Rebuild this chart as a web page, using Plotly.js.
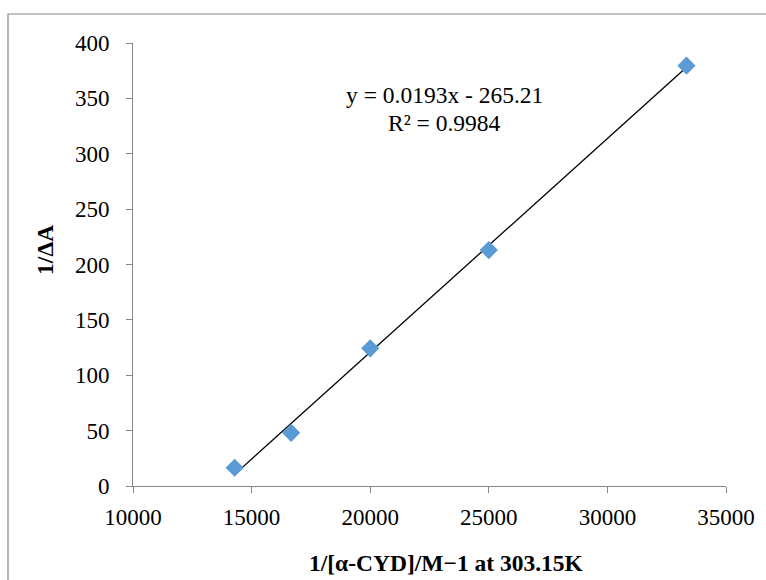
<!DOCTYPE html>
<html>
<head>
<meta charset="utf-8">
<script src="https://cdn.plot.ly/plotly-3.0.1.min.js"></script>
<style>html,body{margin:0;padding:0;background:#fff;}#chart{width:766px;height:580px;}</style>
</head>
<body>
<div id="chart"></div>
<script>
// Data
const invCYD = [14286, 16667, 20000, 25000, 33333];
const invDeltaA = [16.5, 48, 124.3, 213, 379.5];
// Trendline as printed on the chart
const trendSlope = [0.0193];
const trendIntercept = [-265.21];
const equationText = ['y = 0.0193x - 265.21', 'R² = 0.9984'];
const xTickVals = [10000, 15000, 20000, 25000, 30000, 35000];
const yTickVals = [0, 50, 100, 150, 200, 250, 300, 350, 400];

const lineX = [Math.min(...invCYD), Math.max(...invCYD)];
const lineY = lineX.map(v => trendSlope[0] * v + trendIntercept[0]);

const serif = 'Liberation Serif, Times New Roman, serif';
const axisColor = '#868686';
const fs = 23.5;
const tfs = 23;

const traces = [
  {x: lineX, y: lineY, mode: 'lines', line: {color: '#000000', width: 1.3}, hoverinfo: 'skip', showlegend: false},
  {x: invCYD, y: invDeltaA, mode: 'markers', marker: {symbol: 'diamond', size: 14, color: '#5B9BD5'}, showlegend: false}
];

const layout = {
  width: 766, height: 580,
  margin: {l: 133, r: 40, t: 43, b: 94},
  paper_bgcolor: '#ffffff', plot_bgcolor: '#ffffff',
  font: {family: serif, size: fs, color: '#000000'},
  showlegend: false,
  xaxis: {
    range: [10000, 35000], tickvals: xTickVals, ticktext: xTickVals.map(String),
    showgrid: false, zeroline: false, showline: true, linecolor: axisColor, linewidth: 1,
    ticks: 'outside', ticklen: 6, tickcolor: axisColor, tickwidth: 1, ticklabelstandoff: 4,
    tickfont: {family: serif, size: tfs, color: '#000'}
  },
  yaxis: {
    range: [0, 400], tickvals: yTickVals, ticktext: yTickVals.map(String),
    showgrid: false, zeroline: false, showline: true, linecolor: axisColor, linewidth: 1,
    ticks: 'outside', ticklen: 6, tickcolor: axisColor, tickwidth: 1, ticklabelstandoff: 12,
    tickfont: {family: serif, size: tfs, color: '#000'}
  },
  annotations: [
    {text: '<b>1/[α-CYD]/M−1 at 303.15K</b>', xref: 'paper', yref: 'paper', x: 0.5295, y: -0.1738,
     xanchor: 'center', yanchor: 'middle', showarrow: false, font: {family: serif, size: fs, color: '#000'}},
    {text: '<b>1/ΔA</b>', xref: 'paper', yref: 'paper', x: -0.1484, y: 0.533, textangle: -90,
     xanchor: 'center', yanchor: 'middle', showarrow: false, font: {family: serif, size: fs, color: '#000'}},
    {text: equationText[0], xref: 'paper', yref: 'paper', x: 0.526, y: 0.8826,
     xanchor: 'center', yanchor: 'middle', showarrow: false, font: {family: serif, size: fs, color: '#000'}},
    {text: equationText[1], xref: 'paper', yref: 'paper', x: 0.526, y: 0.8194,
     xanchor: 'center', yanchor: 'middle', showarrow: false, font: {family: serif, size: fs, color: '#000'}}
  ],
  shapes: [
    {type: 'rect', xref: 'paper', yref: 'paper', x0: -0.2108, x1: 1.2, y0: -0.4, y1: 1.0655,
     line: {color: axisColor, width: 1.2}, fillcolor: 'rgba(0,0,0,0)', layer: 'below'}
  ]
};

Plotly.newPlot('chart', traces, layout, {displayModeBar: false, staticPlot: true});
</script>
</body>
</html>
